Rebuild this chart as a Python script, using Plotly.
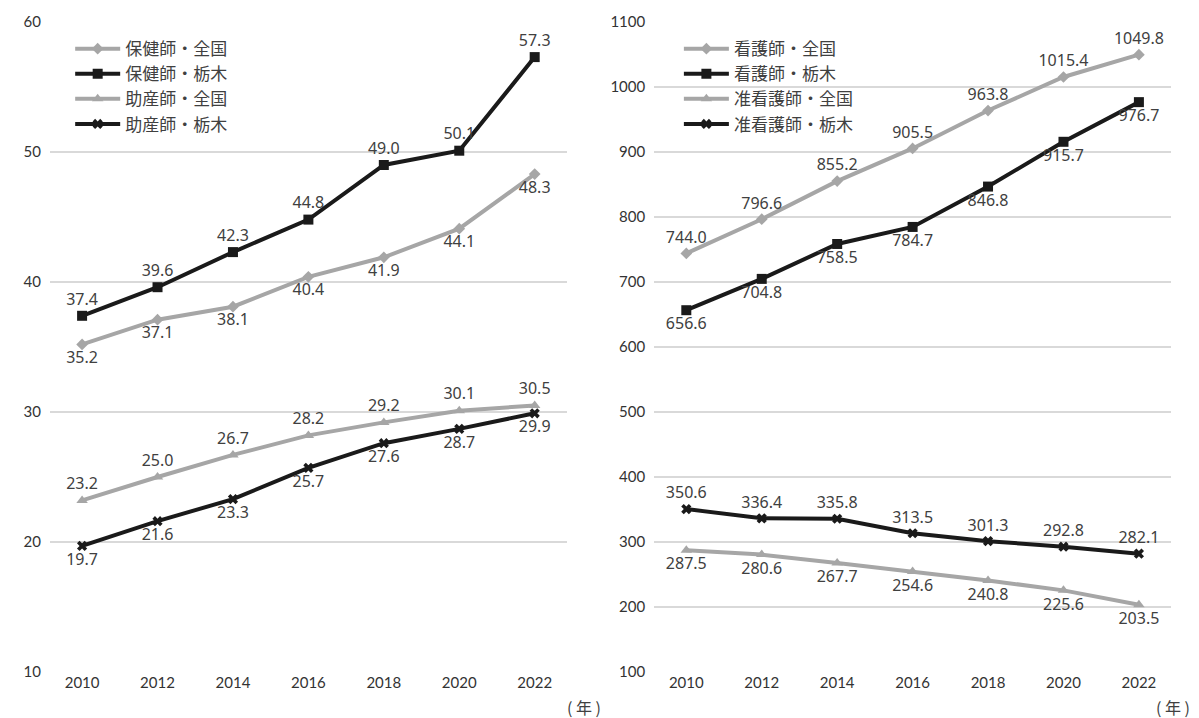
import plotly.graph_objects as go
from plotly.subplots import make_subplots

years = ["2010", "2012", "2014", "2016", "2018", "2020", "2022"]

# 保健師・助産師 (人口10万対)
phn_national = [35.2, 37.1, 38.1, 40.4, 41.9, 44.1, 48.3]
phn_tochigi = [37.4, 39.6, 42.3, 44.8, 49.0, 50.1, 57.3]
mw_national = [23.2, 25.0, 26.7, 28.2, 29.2, 30.1, 30.5]
mw_tochigi = [19.7, 21.6, 23.3, 25.7, 27.6, 28.7, 29.9]

# 看護師・准看護師 (人口10万対)
rn_national = [744.0, 796.6, 855.2, 905.5, 963.8, 1015.4, 1049.8]
rn_tochigi = [656.6, 704.8, 758.5, 784.7, 846.8, 915.7, 976.7]
lpn_national = [287.5, 280.6, 267.7, 254.6, 240.8, 225.6, 203.5]
lpn_tochigi = [350.6, 336.4, 335.8, 313.5, 301.3, 292.8, 282.1]

GRAY = "#a6a6a6"
BLACK = "#1a1a1a"
LABEL = "#404040"
NUM_FONT = "Noto Sans, Noto Sans CJK JP, sans-serif"
JP_FONT = "Noto Sans CJK JP, sans-serif"

fig = make_subplots(rows=1, cols=2, horizontal_spacing=0.078)


def add_series(name, values, color, symbol, msize, textpos, col, legend, fmt):
    fig.add_trace(
        go.Scatter(
            x=years, y=values, name=name, mode="lines+markers+text",
            line=dict(color=color, width=4),
            marker=dict(color=color, symbol=symbol, size=msize, line=dict(width=0)),
            text=[fmt.format(v) for v in values],
            textposition=textpos,
            textfont=dict(family=NUM_FONT, size=16, color=LABEL),
            legend=legend, cliponaxis=False,
        ),
        row=1, col=col,
    )


add_series("保健師・全国", phn_national, GRAY, "diamond", 9, "bottom center", 1, "legend", "{:.1f}")
add_series("保健師・栃木", phn_tochigi, BLACK, "square", 10, "top center", 1, "legend", "{:.1f}")
add_series("助産師・全国", mw_national, GRAY, "triangle-up", 10, "top center", 1, "legend", "{:.1f}")
add_series("助産師・栃木", mw_tochigi, BLACK, "x", 9, "bottom center", 1, "legend", "{:.1f}")

add_series("看護師・全国", rn_national, GRAY, "diamond", 9, "top center", 2, "legend2", "{:.1f}")
add_series("看護師・栃木", rn_tochigi, BLACK, "square", 10, "bottom center", 2, "legend2", "{:.1f}")
add_series("准看護師・全国", lpn_national, GRAY, "triangle-up", 10, "bottom center", 2, "legend2", "{:.1f}")
add_series("准看護師・栃木", lpn_tochigi, BLACK, "x", 9, "top center", 2, "legend2", "{:.1f}")

axis_font = dict(family="Lato, Noto Sans, sans-serif", size=15, color="#333333")

fig.update_xaxes(type="category", showgrid=False, showline=False, zeroline=False,
                 tickfont=axis_font, ticks="")
fig.update_yaxes(showgrid=True, gridcolor="#d9d9d9", gridwidth=1.5, zeroline=False,
                 showline=False, tickfont=axis_font, ticks="", ticklabelstandoff=8)
fig.update_yaxes(range=[10, 60], dtick=10, row=1, col=1)
fig.update_yaxes(range=[100, 1100], dtick=100, row=1, col=2)

legend_style = dict(
    font=dict(family=JP_FONT, size=17, color="#404040"),
    bgcolor="rgba(0,0,0,0)", tracegroupgap=0, itemwidth=45,
    xanchor="left", yanchor="top", traceorder="normal",
)

fig.update_layout(
    width=1199, height=718,
    margin=dict(l=50, r=28, t=22, b=46),
    paper_bgcolor="white", plot_bgcolor="white",
    legend=dict(x=0.018, y=0.986, **legend_style),
    legend2=dict(x=0.561, y=0.986, **legend_style),
    annotations=[
        dict(text="( 年 )", x=0.476, y=-0.054, xref="paper", yref="paper",
             xanchor="center", yanchor="middle", showarrow=False,
             font=dict(family=JP_FONT, size=16, color="#404040")),
        dict(text="( 年 )", x=1.002, y=-0.054, xref="paper", yref="paper",
             xanchor="center", yanchor="middle", showarrow=False,
             font=dict(family=JP_FONT, size=16, color="#404040")),
    ],
)

fig.write_html("out.html")
